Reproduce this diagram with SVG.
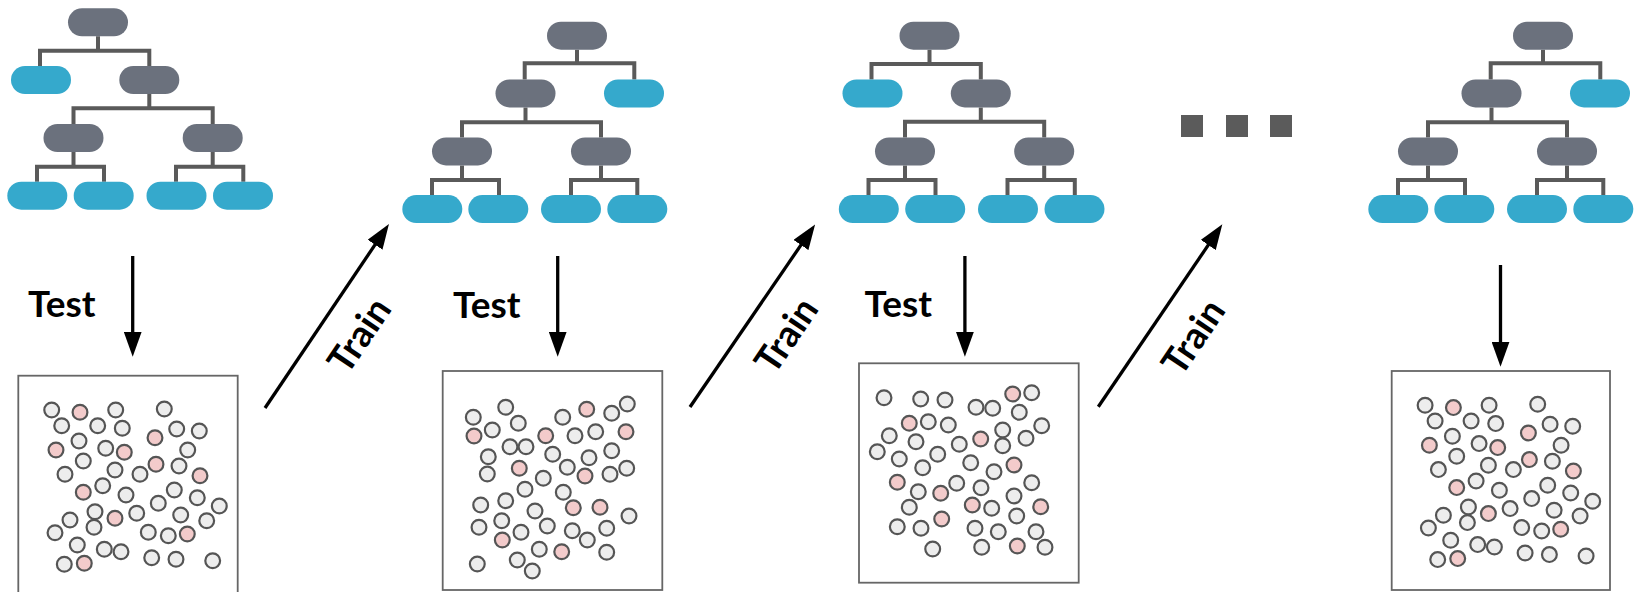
<svg xmlns="http://www.w3.org/2000/svg" width="1635" height="592" viewBox="0 0 1635 592">
<style>
.edge{fill:none;stroke:#5a5a5a;stroke-width:4}
.int{fill:#6b717d}
.leaf{fill:#35a9cc}
.box{fill:#fff;stroke:#666;stroke-width:1.8}
.g{fill:#ededed;stroke:#555;stroke-width:2.2}
.p{fill:#f3cbcb;stroke:#555;stroke-width:2.2}
.arr{fill:none;stroke:#000;stroke-width:3.3}
.lbl{font-family:Lato,"Liberation Sans",sans-serif;font-weight:700;font-size:37px;fill:#000}
.dot{fill:#5b5b5b}
</style>
<defs>
<marker id="ah" markerUnits="userSpaceOnUse" markerWidth="25" markerHeight="18" refX="5" refY="9" orient="auto" viewBox="0 0 25 18">
<path d="M0 0L25 9L0 18z" fill="#000"/>
</marker>
<g id="ptsA">
<circle class="g" cx="51.7" cy="410" r="7.4"/><circle class="p" cx="80" cy="412.3" r="7.4"/><circle class="g" cx="115.7" cy="410" r="7.4"/><circle class="g" cx="164.3" cy="409" r="7.4"/>
<circle class="g" cx="61.7" cy="425.7" r="7.4"/><circle class="g" cx="97.7" cy="425.7" r="7.4"/><circle class="g" cx="122.3" cy="428.3" r="7.4"/><circle class="g" cx="79" cy="441" r="7.4"/>
<circle class="p" cx="155" cy="437.7" r="7.4"/><circle class="g" cx="176.7" cy="429" r="7.4"/><circle class="g" cx="199.3" cy="431" r="7.4"/><circle class="p" cx="56" cy="450" r="7.4"/>
<circle class="g" cx="105.7" cy="448.3" r="7.4"/><circle class="p" cx="124.3" cy="452.3" r="7.4"/><circle class="g" cx="187.7" cy="450" r="7.4"/><circle class="g" cx="83.3" cy="461" r="7.4"/>
<circle class="g" cx="65" cy="474.3" r="7.4"/><circle class="g" cx="115" cy="470" r="7.4"/><circle class="g" cx="140" cy="474.3" r="7.4"/><circle class="p" cx="156" cy="464.3" r="7.4"/>
<circle class="g" cx="179" cy="466" r="7.4"/><circle class="p" cx="200" cy="475.7" r="7.4"/><circle class="p" cx="83.3" cy="492.3" r="7.4"/><circle class="g" cx="102.7" cy="485.7" r="7.4"/>
<circle class="g" cx="126" cy="495" r="7.4"/><circle class="g" cx="158.3" cy="503.3" r="7.4"/><circle class="g" cx="174.3" cy="490" r="7.4"/><circle class="g" cx="197.3" cy="497.7" r="7.4"/>
<circle class="g" cx="219.3" cy="506" r="7.4"/><circle class="g" cx="95" cy="511.7" r="7.4"/><circle class="g" cx="70" cy="520" r="7.4"/><circle class="p" cx="115" cy="518.3" r="7.4"/>
<circle class="g" cx="136.7" cy="513.3" r="7.4"/><circle class="g" cx="180.7" cy="515" r="7.4"/><circle class="g" cx="206.7" cy="520.7" r="7.4"/><circle class="g" cx="55" cy="532.7" r="7.4"/>
<circle class="g" cx="94" cy="527.3" r="7.4"/><circle class="g" cx="148.3" cy="532.3" r="7.4"/><circle class="g" cx="168.3" cy="535.7" r="7.4"/><circle class="p" cx="187.3" cy="534" r="7.4"/>
<circle class="g" cx="77.3" cy="545" r="7.4"/><circle class="g" cx="104.3" cy="549.3" r="7.4"/><circle class="g" cx="121" cy="551.7" r="7.4"/><circle class="g" cx="64.3" cy="564.3" r="7.4"/>
<circle class="p" cx="84.3" cy="563.3" r="7.4"/><circle class="g" cx="151.7" cy="557.7" r="7.4"/><circle class="g" cx="176" cy="559.3" r="7.4"/><circle class="g" cx="212.7" cy="560.7" r="7.4"/>
</g>
</defs>

<g id="tree1" transform="translate(0,8.3)">
<path class="edge" d="M98 28V42.4M40 57.7V42.4H149.3V57.7M149.3 85.7V100M73.5 115.7V100H212.7V115.7M73.5 143.7V158.4M37 173.4V158.4H104V173.4M212.7 143.7V158.4M176 173.4V158.4H243.3V173.4"/>
<rect class="int" x="68" y="0" width="60" height="28" rx="14"/>
<rect class="leaf" x="11" y="57.7" width="60" height="28" rx="14"/>
<rect class="int" x="119.3" y="57.7" width="60" height="28" rx="14"/>
<rect class="int" x="43.5" y="115.7" width="60" height="28" rx="14"/>
<rect class="int" x="182.7" y="115.7" width="60" height="28" rx="14"/>
<rect class="leaf" x="7.3" y="173.4" width="60" height="28" rx="14"/>
<rect class="leaf" x="73.7" y="173.4" width="60" height="28" rx="14"/>
<rect class="leaf" x="146.5" y="173.4" width="60" height="28" rx="14"/>
<rect class="leaf" x="213" y="173.4" width="60" height="28" rx="14"/>
</g>

<g id="tree2" transform="translate(400,21.7)">
<path class="edge" d="M177 28V41.6M124.7 57.7V41.6H234.3V57.7M125.5 85.7V100.6M62 115.7V100.6H201V115.7M62 143.7V158.3M32 173.4V158.3H99V173.4M201 143.7V158.3M171 173.4V158.3H237.3V173.4"/>
<rect class="int" x="147" y="0" width="60" height="28" rx="14"/>
<rect class="int" x="95.5" y="57.7" width="60" height="28" rx="14"/>
<rect class="leaf" x="204" y="57.7" width="60" height="28" rx="14"/>
<rect class="int" x="32" y="115.7" width="60" height="28" rx="14"/>
<rect class="int" x="171" y="115.7" width="60" height="28" rx="14"/>
<rect class="leaf" x="2.3" y="173.4" width="60" height="28" rx="14"/>
<rect class="leaf" x="68.3" y="173.4" width="60" height="28" rx="14"/>
<rect class="leaf" x="141" y="173.4" width="60" height="28" rx="14"/>
<rect class="leaf" x="207.3" y="173.4" width="60" height="28" rx="14"/>
</g>

<g id="tree3" transform="translate(831.5,21.7)">
<path class="edge" d="M98 28V42.4M40 57.7V42.4H149.3V57.7M149.3 85.7V100M73.5 115.7V100H212.7V115.7M73.5 143.7V158.4M37 173.4V158.4H104V173.4M212.7 143.7V158.4M176 173.4V158.4H243.3V173.4"/>
<rect class="int" x="68" y="0" width="60" height="28" rx="14"/>
<rect class="leaf" x="11" y="57.7" width="60" height="28" rx="14"/>
<rect class="int" x="119.3" y="57.7" width="60" height="28" rx="14"/>
<rect class="int" x="43.5" y="115.7" width="60" height="28" rx="14"/>
<rect class="int" x="182.7" y="115.7" width="60" height="28" rx="14"/>
<rect class="leaf" x="7.3" y="173.4" width="60" height="28" rx="14"/>
<rect class="leaf" x="73.7" y="173.4" width="60" height="28" rx="14"/>
<rect class="leaf" x="146.5" y="173.4" width="60" height="28" rx="14"/>
<rect class="leaf" x="213" y="173.4" width="60" height="28" rx="14"/>
</g>

<g id="tree4" transform="translate(1366,21.7)">
<path class="edge" d="M177 28V41.6M124.7 57.7V41.6H234.3V57.7M125.5 85.7V100.6M62 115.7V100.6H201V115.7M62 143.7V158.3M32 173.4V158.3H99V173.4M201 143.7V158.3M171 173.4V158.3H237.3V173.4"/>
<rect class="int" x="147" y="0" width="60" height="28" rx="14"/>
<rect class="int" x="95.5" y="57.7" width="60" height="28" rx="14"/>
<rect class="leaf" x="204" y="57.7" width="60" height="28" rx="14"/>
<rect class="int" x="32" y="115.7" width="60" height="28" rx="14"/>
<rect class="int" x="171" y="115.7" width="60" height="28" rx="14"/>
<rect class="leaf" x="2.3" y="173.4" width="60" height="28" rx="14"/>
<rect class="leaf" x="68.3" y="173.4" width="60" height="28" rx="14"/>
<rect class="leaf" x="141" y="173.4" width="60" height="28" rx="14"/>
<rect class="leaf" x="207.3" y="173.4" width="60" height="28" rx="14"/>
</g>

<g id="ellipsis">
<rect class="dot" x="1181" y="115" width="22" height="22"/>
<rect class="dot" x="1226" y="115" width="22" height="22"/>
<rect class="dot" x="1270" y="115" width="22" height="22"/>
</g>

<g id="data1">
<rect class="box" x="18.3" y="375.7" width="219.4" height="219"/>
<use href="#ptsA"/>
</g>

<g id="data2">
<rect class="box" x="442.7" y="371" width="219.6" height="219"/>
<circle class="g" cx="473.3" cy="417.3" r="7.4"/><circle class="g" cx="505.7" cy="407.3" r="7.4"/><circle class="p" cx="474" cy="436" r="7.4"/><circle class="g" cx="492.3" cy="430" r="7.4"/>
<circle class="g" cx="518.3" cy="423.3" r="7.4"/><circle class="g" cx="562.7" cy="417.3" r="7.4"/><circle class="p" cx="586.7" cy="409.3" r="7.4"/><circle class="g" cx="611.7" cy="413.3" r="7.4"/>
<circle class="g" cx="627.3" cy="404" r="7.4"/><circle class="p" cx="545.7" cy="435.7" r="7.4"/><circle class="g" cx="575" cy="435.7" r="7.4"/><circle class="g" cx="595.7" cy="431.7" r="7.4"/>
<circle class="p" cx="626" cy="431.7" r="7.4"/><circle class="g" cx="510" cy="446.7" r="7.4"/><circle class="g" cx="526" cy="446.7" r="7.4"/><circle class="g" cx="488.3" cy="456.7" r="7.4"/>
<circle class="g" cx="552.7" cy="454.3" r="7.4"/><circle class="g" cx="589" cy="457.7" r="7.4"/><circle class="g" cx="611.7" cy="450.7" r="7.4"/><circle class="g" cx="487.3" cy="474" r="7.4"/>
<circle class="p" cx="519.3" cy="468.3" r="7.4"/><circle class="g" cx="567.3" cy="467.3" r="7.4"/><circle class="g" cx="543.3" cy="478.3" r="7.4"/><circle class="p" cx="585" cy="476" r="7.4"/>
<circle class="g" cx="610" cy="474.3" r="7.4"/><circle class="g" cx="626.7" cy="468.3" r="7.4"/><circle class="g" cx="525" cy="489.3" r="7.4"/><circle class="g" cx="563.3" cy="492.3" r="7.4"/>
<circle class="g" cx="480.7" cy="505" r="7.4"/><circle class="g" cx="505.7" cy="500.7" r="7.4"/><circle class="g" cx="535" cy="511" r="7.4"/><circle class="p" cx="573.3" cy="507.7" r="7.4"/>
<circle class="p" cx="600" cy="507.3" r="7.4"/><circle class="g" cx="629" cy="516" r="7.4"/><circle class="g" cx="501.7" cy="520.7" r="7.4"/><circle class="g" cx="479" cy="527.3" r="7.4"/>
<circle class="g" cx="521" cy="532.3" r="7.4"/><circle class="g" cx="547.3" cy="526" r="7.4"/><circle class="g" cx="572.3" cy="530.7" r="7.4"/><circle class="g" cx="606.7" cy="528.3" r="7.4"/>
<circle class="p" cx="502.3" cy="540" r="7.4"/><circle class="g" cx="587.3" cy="540" r="7.4"/><circle class="g" cx="539.3" cy="549.3" r="7.4"/><circle class="p" cx="561.7" cy="551.7" r="7.4"/>
<circle class="g" cx="606.7" cy="552.3" r="7.4"/><circle class="g" cx="517.3" cy="560" r="7.4"/><circle class="g" cx="477.3" cy="564" r="7.4"/><circle class="g" cx="532.3" cy="571" r="7.4"/>
</g>

<g id="data3">
<rect class="box" x="859" y="363.3" width="219.7" height="219.4"/>
<circle class="g" cx="884" cy="397.7" r="7.4"/><circle class="g" cx="920.7" cy="399" r="7.4"/><circle class="g" cx="945" cy="400" r="7.4"/><circle class="g" cx="976" cy="407.3" r="7.4"/>
<circle class="g" cx="992.7" cy="408.3" r="7.4"/><circle class="p" cx="1012.7" cy="394" r="7.4"/><circle class="g" cx="1031.7" cy="392.7" r="7.4"/><circle class="g" cx="1019.3" cy="412.3" r="7.4"/>
<circle class="p" cx="909.3" cy="423.3" r="7.4"/><circle class="g" cx="928.3" cy="421.7" r="7.4"/><circle class="g" cx="948.3" cy="425" r="7.4"/><circle class="g" cx="889.3" cy="435.7" r="7.4"/>
<circle class="g" cx="916" cy="441.7" r="7.4"/><circle class="g" cx="959.3" cy="444.3" r="7.4"/><circle class="p" cx="980.7" cy="439" r="7.4"/><circle class="g" cx="1002.7" cy="430" r="7.4"/>
<circle class="g" cx="1002.7" cy="445.7" r="7.4"/><circle class="g" cx="1026" cy="438.3" r="7.4"/><circle class="g" cx="1041.7" cy="425.7" r="7.4"/><circle class="g" cx="877.3" cy="451.7" r="7.4"/>
<circle class="g" cx="899.3" cy="459" r="7.4"/><circle class="g" cx="937.7" cy="454.3" r="7.4"/><circle class="g" cx="922.7" cy="467.7" r="7.4"/><circle class="g" cx="970.7" cy="462.7" r="7.4"/>
<circle class="g" cx="994" cy="471.7" r="7.4"/><circle class="p" cx="1014" cy="465" r="7.4"/><circle class="p" cx="897.3" cy="482.3" r="7.4"/><circle class="g" cx="918.3" cy="491.7" r="7.4"/>
<circle class="p" cx="940.7" cy="493.3" r="7.4"/><circle class="g" cx="956.7" cy="483.3" r="7.4"/><circle class="g" cx="981" cy="487.7" r="7.4"/><circle class="g" cx="1031.7" cy="482.7" r="7.4"/>
<circle class="g" cx="1014" cy="496" r="7.4"/><circle class="g" cx="909.3" cy="507.3" r="7.4"/><circle class="p" cx="972.3" cy="505" r="7.4"/><circle class="g" cx="991.7" cy="508.3" r="7.4"/>
<circle class="p" cx="1040.7" cy="506.7" r="7.4"/><circle class="g" cx="1016.7" cy="516" r="7.4"/><circle class="p" cx="941.7" cy="519" r="7.4"/><circle class="g" cx="897.3" cy="526.7" r="7.4"/>
<circle class="g" cx="921" cy="528.3" r="7.4"/><circle class="g" cx="975" cy="528.3" r="7.4"/><circle class="g" cx="998.3" cy="531.7" r="7.4"/><circle class="g" cx="1036" cy="531.7" r="7.4"/>
<circle class="g" cx="932.7" cy="549" r="7.4"/><circle class="g" cx="981.7" cy="547.3" r="7.4"/><circle class="p" cx="1017.3" cy="546" r="7.4"/><circle class="g" cx="1045" cy="547.3" r="7.4"/>
</g>

<g id="data4">
<rect class="box" x="1391.7" y="371" width="218.3" height="219"/>
<use href="#ptsA" transform="translate(1373.4,-4.7)"/>
</g>

<g id="connectors">
<line class="arr" x1="132.7" y1="256" x2="132.7" y2="336.7" marker-end="url(#ah)"/>
<line class="arr" x1="557.7" y1="256" x2="557.7" y2="336.7" marker-end="url(#ah)"/>
<line class="arr" x1="964.9" y1="256" x2="964.9" y2="336.7" marker-end="url(#ah)"/>
<line class="arr" x1="1500.5" y1="265" x2="1500.5" y2="346.7" marker-end="url(#ah)"/>
<line class="arr" x1="265" y1="408" x2="377.8" y2="240.6" marker-end="url(#ah)"/>
<line class="arr" x1="690" y1="407" x2="803.8" y2="240.9" marker-end="url(#ah)"/>
<line class="arr" x1="1098.3" y1="406.7" x2="1211.1" y2="240.9" marker-end="url(#ah)"/>
</g>

<g id="labels">
<text class="lbl" x="28" y="317.3">Test</text>
<text class="lbl" x="453" y="317.5">Test</text>
<text class="lbl" x="864.5" y="316.7">Test</text>
<text class="lbl" text-anchor="middle" transform="translate(359,335) rotate(-56)" x="0" y="13.3">Train</text>
<text class="lbl" text-anchor="middle" transform="translate(786,335) rotate(-56)" x="0" y="13.3">Train</text>
<text class="lbl" text-anchor="middle" transform="translate(1193,336.7) rotate(-56)" x="0" y="13.3">Train</text>
</g>
</svg>
